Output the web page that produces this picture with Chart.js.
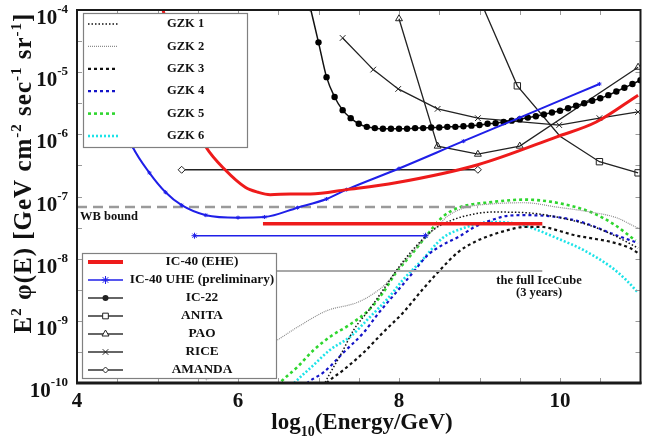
<!DOCTYPE html>
<html><head><meta charset="utf-8">
<script src="https://cdn.jsdelivr.net/npm/chart.js@4"></script>
<style>html,body{margin:0;padding:0;background:#fff;}#wrap{width:646px;height:443px;}</style>
</head><body><div id="wrap"><canvas id="c" width="646" height="443"></canvas></div>
<script>
// x = log10(Energy/GeV), y = E^2 phi(E) [GeV cm^-2 s^-1 sr^-1]
const ic40EheX = [5.05, 5.30, 5.45, 5.60, 5.84, 6.09, 6.25, 6.40, 6.65, 6.90, 7.35, 7.96, 8.98, 9.96, 10.45, 10.97];
const ic40EheY = [1.26e-4, 6.31e-6, 1.58e-6, 6.31e-7, 2.69e-7, 1.41e-7, 1.17e-7, 1.07e-7, 1.10e-7, 1.10e-7, 1.29e-7, 1.66e-7, 3.24e-7, 9.12e-7, 1.58e-6, 4.27e-6];
const ic40UheX = [4.50, 4.69, 4.90, 5.10, 5.30, 5.60, 6.00, 6.33, 6.74, 7.10, 7.35, 8.00, 8.80, 9.50, 10.49];
const ic40UheY = [2.51e-6, 6.31e-7, 2.40e-7, 1.17e-7, 7.24e-8, 5.01e-8, 4.57e-8, 4.68e-8, 6.61e-8, 9.12e-8, 1.29e-7, 2.82e-7, 7.76e-7, 1.86e-6, 6.46e-6];
const ic22X = [6.9, 7.0, 7.1, 7.2, 7.3, 7.4, 7.5, 7.6, 7.7, 7.8, 7.9, 8.0, 8.1, 8.2, 8.3, 8.4, 8.5, 8.6, 8.7, 8.8, 8.9, 9.0, 9.1, 9.2, 9.3, 9.4, 9.5, 9.6, 9.7, 9.8, 9.9, 10.0, 10.1, 10.2, 10.3, 10.4, 10.5, 10.6, 10.7, 10.8, 10.9, 11.0];
const ic22Y = [1.07e-4, 3.02e-5, 8.32e-6, 3.98e-6, 2.45e-6, 1.82e-6, 1.48e-6, 1.32e-6, 1.26e-6, 1.23e-6, 1.23e-6, 1.23e-6, 1.23e-6, 1.26e-6, 1.26e-6, 1.29e-6, 1.29e-6, 1.32e-6, 1.32e-6, 1.35e-6, 1.38e-6, 1.41e-6, 1.48e-6, 1.51e-6, 1.58e-6, 1.66e-6, 1.74e-6, 1.86e-6, 1.95e-6, 2.09e-6, 2.24e-6, 2.40e-6, 2.63e-6, 2.88e-6, 3.16e-6, 3.47e-6, 3.80e-6, 4.27e-6, 4.90e-6, 5.62e-6, 6.46e-6, 7.41e-6];
const anitaX = [9.0, 9.47, 10.0, 10.49, 10.97];
const anitaY = [1.51e-4, 6.03e-6, 9.33e-7, 3.63e-7, 2.40e-7];
const paoX = [8.0, 8.48, 8.98, 9.50, 10.97];
const paoY = [7.24e-5, 6.46e-7, 4.79e-7, 6.46e-7, 1.20e-5];
const riceX = [7.30, 7.68, 7.99, 8.48, 8.98, 9.99, 10.49, 10.97];
const riceY = [3.55e-5, 1.10e-5, 5.37e-6, 2.57e-6, 1.82e-6, 1.41e-6, 1.82e-6, 2.29e-6];
const amandaX = [5.30, 8.98];
const amandaY = [2.69e-7, 2.69e-7];
const wbX = [4.0, 8.98];
const wbY = [6.76e-8, 6.76e-8];
const ic40EheIntX = [6.31, 9.78];
const ic40EheIntY = [3.63e-8, 3.63e-8];
const ic40UheIntX = [5.46, 8.33];
const ic40UheIntY = [2.34e-8, 2.34e-8];
const fullIceCubeX = [6.30, 9.78];
const fullIceCubeY = [6.31e-9, 6.31e-9];
const gzk1X = [6.98, 7.08, 7.29, 7.44, 7.63, 7.82, 7.99, 8.17, 8.42, 8.66, 8.94, 9.15, 9.56, 9.96, 10.38, 10.63, 10.87, 10.97];
const gzk1Y = [5.0e-11, 1.00e-10, 3.09e-10, 7.24e-10, 1.51e-9, 3.39e-9, 7.08e-9, 1.38e-8, 2.88e-8, 4.17e-8, 5.25e-8, 5.62e-8, 5.50e-8, 4.68e-8, 3.39e-8, 2.51e-8, 1.74e-8, 1.48e-8];
const gzk2X = [5.6, 6.45, 6.74, 7.10, 7.47, 7.65, 7.84, 7.98, 8.13, 8.30, 8.50, 8.60, 8.82, 9.15, 9.56, 9.96, 10.38, 10.70, 10.94, 11.0];
const gzk2Y = [1.12e-10, 4.57e-10, 7.94e-10, 1.45e-9, 1.95e-9, 2.57e-9, 3.98e-9, 6.61e-9, 1.12e-8, 2.00e-8, 3.55e-8, 4.79e-8, 6.61e-8, 7.59e-8, 7.94e-8, 6.76e-8, 5.62e-8, 4.57e-8, 3.24e-8, 3.02e-8];
const gzk3X = [7.00, 7.10, 7.31, 7.56, 7.80, 8.05, 8.29, 8.49, 8.74, 8.94, 9.15, 9.35, 9.56, 9.77, 9.96, 10.17, 10.38, 10.63, 10.87, 10.97];
const gzk3Y = [7.08e-11, 1.00e-10, 1.62e-10, 3.09e-10, 6.46e-10, 1.35e-9, 3.16e-9, 6.17e-9, 1.29e-8, 1.86e-8, 2.40e-8, 2.88e-8, 3.24e-8, 3.24e-8, 2.88e-8, 2.40e-8, 2.14e-8, 1.86e-8, 1.48e-8, 1.23e-8];
const gzk4X = [6.75, 6.86, 7.07, 7.31, 7.56, 7.75, 7.96, 8.17, 8.35, 8.54, 8.74, 8.94, 9.15, 9.35, 9.56, 9.96, 10.29, 10.63, 10.97];
const gzk4Y = [7.08e-11, 1.00e-10, 1.51e-10, 3.09e-10, 6.46e-10, 1.35e-9, 2.82e-9, 5.89e-9, 1.12e-8, 1.66e-8, 2.24e-8, 3.24e-8, 4.17e-8, 4.90e-8, 5.01e-8, 4.68e-8, 3.80e-8, 2.57e-8, 1.78e-8];
const gzk5X = [6.40, 6.52, 6.74, 6.94, 7.14, 7.39, 7.63, 7.80, 7.96, 8.17, 8.33, 8.54, 8.74, 9.15, 9.56, 9.96, 10.38, 10.66, 10.94];
const gzk5Y = [6.31e-11, 1.00e-10, 1.82e-10, 3.39e-10, 5.50e-10, 8.71e-10, 1.51e-9, 2.82e-9, 5.89e-9, 1.23e-8, 2.24e-8, 4.68e-8, 6.61e-8, 8.13e-8, 8.91e-8, 7.94e-8, 5.62e-8, 3.63e-8, 1.95e-8];
const gzk6X = [6.60, 6.70, 6.94, 7.14, 7.39, 7.63, 7.88, 8.05, 8.29, 8.54, 8.82, 9.15, 9.47, 9.68, 9.96, 10.29, 10.63, 10.82, 10.97];
const gzk6Y = [7.08e-11, 1.00e-10, 1.95e-10, 3.39e-10, 5.50e-10, 1.12e-9, 2.45e-9, 4.57e-9, 9.55e-9, 2.14e-8, 3.16e-8, 3.89e-8, 3.63e-8, 3.02e-8, 2.14e-8, 1.38e-8, 7.41e-9, 4.57e-9, 2.82e-9];

const xTickLabels = [4, 6, 8, 10];
const xMinorTicks = [4.5, 5, 5.5, 6, 6.5, 7, 7.5, 8, 8.5, 9, 9.5, 10, 10.5];
const yTickExponents = [-4, -5, -6, -7, -8, -9, -10];
const yMinorExponents = [-4.5, -5, -5.5, -6, -6.5, -7, -7.5, -8, -8.5, -9, -9.5];
const gzkLegend = ['GZK 1', 'GZK 2', 'GZK 3', 'GZK 4', 'GZK 5', 'GZK 6'];
const expLegend = ['IC-40 (EHE)', 'IC-40 UHE (preliminary)', 'IC-22', 'ANITA', 'PAO', 'RICE', 'AMANDA'];

const RED = '#ee1b1b', BLUE = '#1f1fe8', BLK = '#222';
const C_GZK = ['#111', '#8c8c8c', '#111', '#1414c8', '#2fd62f', '#1ce3e8'];
const W_GZK = [1.5, 1.2, 2.2, 2.2, 2.6, 2.6];
const D_GZK = [[1.5, 2], [1, 1], [3, 3], [3, 3], [3, 3], [2, 2]];

const pts = (xs, ys) => xs.map((x, i) => ({x, y: ys[i]}));
function ds(label, xs, ys, o) {
  return Object.assign({label, data: pts(xs, ys), pointRadius: 0, borderWidth: 1.3, borderColor: BLK, fill: false, tension: 0}, o);
}
const datasets = [
  ds('IC-40 (EHE)', ic40EheX, ic40EheY, {borderColor: RED, borderWidth: 3, cubicInterpolationMode: 'monotone'}),
  ds('IC-40 UHE (preliminary)', ic40UheX, ic40UheY, {borderColor: BLUE, borderWidth: 2, cubicInterpolationMode: 'monotone', pointStyle: 'star', pointRadius: 2, pointBorderColor: BLUE, pointBorderWidth: 1}),
  ds('IC-22', ic22X, ic22Y, {borderColor: '#111', borderWidth: 1.5, cubicInterpolationMode: 'monotone', pointStyle: 'circle', pointRadius: 3.2, pointBackgroundColor: '#000', pointBorderColor: '#000', pointBorderWidth: 0}),
  ds('ANITA', anitaX, anitaY, {pointStyle: 'rect', pointRadius: [4.5, 4.5, 0, 4.5, 4.5], pointBackgroundColor: 'rgba(255,255,255,0)', pointBorderColor: BLK, pointBorderWidth: 1}),
  ds('PAO', paoX, paoY, {pointStyle: 'triangle', pointRadius: 4, pointBackgroundColor: 'rgba(255,255,255,0)', pointBorderColor: BLK, pointBorderWidth: 1}),
  ds('RICE', riceX, riceY, {pointStyle: 'crossRot', pointRadius: 4, pointBorderColor: BLK, pointBorderWidth: 1}),
  ds('AMANDA', amandaX, amandaY, {borderWidth: 1.5, pointStyle: 'rectRot', pointRadius: 3.5, pointBackgroundColor: '#fff', pointBorderColor: BLK, pointBorderWidth: 1}),
  ds('IC-40 (EHE) integral', ic40EheIntX, ic40EheIntY, {borderColor: RED, borderWidth: 3.5}),
  ds('IC-40 UHE integral', ic40UheIntX, ic40UheIntY, {borderColor: BLUE, borderWidth: 1.5, pointStyle: 'star', pointRadius: 3, pointBorderColor: BLUE, pointBorderWidth: 1}),
  ds('WB bound', wbX, wbY, {borderColor: '#9a9a9a', borderWidth: 2.5, borderDash: [10, 6]}),
  ds('the full IceCube (3 years)', fullIceCubeX, fullIceCubeY, {borderColor: '#a8a8a8', borderWidth: 2}),
];
[[gzk1X, gzk1Y], [gzk2X, gzk2Y], [gzk3X, gzk3Y], [gzk4X, gzk4Y], [gzk5X, gzk5Y], [gzk6X, gzk6Y]].forEach((p, i) => {
  datasets.push(ds(gzkLegend[i], p[0], p[1], {borderColor: C_GZK[i], borderWidth: W_GZK[i], borderDash: D_GZK[i], cubicInterpolationMode: 'monotone'}));
});

const SERIF = '"Liberation Serif","Times New Roman",serif';
const F = s => `bold ${s}px ${SERIF}`;

function marker(ctx, style, x, y, r, color) {
  ctx.save();
  ctx.strokeStyle = color; ctx.fillStyle = color; ctx.lineWidth = 1; ctx.setLineDash([]);
  ctx.beginPath();
  if (style === 'circle') { ctx.arc(x, y, r, 0, Math.PI * 2); ctx.fill(); }
  else if (style === 'rect') { const s = r * Math.SQRT1_2; ctx.fillStyle = '#fff'; ctx.rect(x - s, y - s, 2 * s, 2 * s); ctx.fill(); ctx.stroke(); }
  else if (style === 'triangle') { ctx.fillStyle = '#fff'; ctx.moveTo(x, y - r); ctx.lineTo(x + r * 0.87, y + r * 0.5); ctx.lineTo(x - r * 0.87, y + r * 0.5); ctx.closePath(); ctx.fill(); ctx.stroke(); }
  else if (style === 'crossRot') { const s = r * 0.7; ctx.moveTo(x - s, y - s); ctx.lineTo(x + s, y + s); ctx.moveTo(x + s, y - s); ctx.lineTo(x - s, y + s); ctx.stroke(); }
  else if (style === 'rectRot') { ctx.fillStyle = '#fff'; ctx.moveTo(x, y - r); ctx.lineTo(x + r, y); ctx.lineTo(x, y + r); ctx.lineTo(x - r, y); ctx.closePath(); ctx.fill(); ctx.stroke(); }
  else if (style === 'star') { for (let k = 0; k < 4; k++) { const a = k * Math.PI / 4; ctx.moveTo(x - r * Math.cos(a), y - r * Math.sin(a)); ctx.lineTo(x + r * Math.cos(a), y + r * Math.sin(a)); } ctx.stroke(); }
  ctx.restore();
}

function partW(ctx, t, size, ls) {
  ctx.font = F(size); ctx.letterSpacing = '0px';
  return ctx.measureText(t).width + ls * t.length;
}
function partsWidth(ctx, parts, big, small, ls) {
  let w = 0; parts.forEach(([t, s]) => { w += partW(ctx, t, s ? small : big, ls); }); return w;
}
function drawParts(ctx, parts, x0, y0, big, small, shift, ls) {
  let x = x0;
  parts.forEach(([t, s]) => {
    const w = partW(ctx, t, s ? small : big, ls);
    ctx.font = F(s ? small : big); ctx.letterSpacing = ls + 'px';
    ctx.fillText(t, x, y0 + (s ? shift : 0));
    ctx.letterSpacing = '0px';
    x += w;
  });
}

const decor = {
  id: 'decor',
  afterDatasetsDraw(chart) {
    const {ctx, chartArea: a, scales: {x, y}} = chart;
    ctx.save();
    ctx.setLineDash([]);
    // inward ticks
    ctx.strokeStyle = '#9a9a9a'; ctx.lineWidth = 1;
    xMinorTicks.forEach(v => {
      const px = Math.round(x.getPixelForValue(v)) + 0.5;
      ctx.beginPath(); ctx.moveTo(px, a.bottom); ctx.lineTo(px, a.bottom - 5); ctx.moveTo(px, a.top); ctx.lineTo(px, a.top + 5); ctx.stroke();
    });
    yMinorExponents.forEach(e => {
      const py = Math.round(y.getPixelForValue(Math.pow(10, e))) + 0.5;
      ctx.beginPath(); ctx.moveTo(a.left, py); ctx.lineTo(a.left + 5, py); ctx.moveTo(a.right, py); ctx.lineTo(a.right - 5, py); ctx.stroke();
    });
    ctx.fillStyle = '#111';
    // in-plot annotations
    ctx.font = F(12.5); ctx.textBaseline = 'middle'; ctx.textAlign = 'left';
    ctx.fillText('WB bound', a.left + 3, y.getPixelForValue(wbY[0]) + 10);
    ctx.textAlign = 'center';
    const gy = y.getPixelForValue(fullIceCubeY[0]);
    const gx = x.getPixelForValue(9.74);
    ctx.fillText('the full IceCube', gx, gy + 10);
    ctx.fillText('(3 years)', gx, gy + 22);

    // GZK legend
    let L = a.left + 6, T = a.top + 3, R = a.left + 170, B = a.top + 137;
    ctx.fillStyle = '#fff'; ctx.fillRect(L, T, R - L, B - T);
    ctx.strokeStyle = '#808080'; ctx.lineWidth = 1.2; ctx.strokeRect(L + 0.5, T + 0.5, R - L, B - T);
    gzkLegend.forEach((t, i) => {
      const ry = T + 11 + i * 22.4;
      ctx.save(); ctx.strokeStyle = C_GZK[i]; ctx.lineWidth = W_GZK[i]; ctx.setLineDash(D_GZK[i]);
      ctx.beginPath(); ctx.moveTo(L + 5, ry); ctx.lineTo(L + 35, ry); ctx.stroke(); ctx.restore();
      ctx.fillStyle = '#111'; ctx.font = F(12.5); ctx.textAlign = 'left'; ctx.textBaseline = 'middle';
      ctx.fillText(t, L + 84, ry);
    });

    // experiments legend
    L = a.left + 5; T = a.top + 243; R = a.left + 199; B = a.top + 368;
    ctx.fillStyle = '#fff'; ctx.fillRect(L, T, R - L, B - T);
    ctx.strokeStyle = '#808080'; ctx.lineWidth = 1.2; ctx.strokeRect(L + 0.5, T + 0.5, R - L, B - T);
    const styles = [null, 'star', 'circle', 'rect', 'triangle', 'crossRot', 'rectRot'];
    expLegend.forEach((t, i) => {
      const ry = T + 9 + i * 18;
      ctx.save(); ctx.setLineDash([]);
      ctx.strokeStyle = i === 0 ? RED : (i === 1 ? BLUE : '#333');
      ctx.lineWidth = i === 0 ? 4 : (i === 1 ? 1.6 : 1.5);
      ctx.beginPath(); ctx.moveTo(L + 6, ry); ctx.lineTo(L + 41, ry); ctx.stroke(); ctx.restore();
      if (styles[i]) marker(ctx, styles[i], L + 23.5, ry, (i === 2 || i === 6) ? 3 : 4, i === 1 ? BLUE : '#222');
      ctx.fillStyle = '#111'; ctx.font = F(13.3); ctx.textAlign = 'center'; ctx.textBaseline = 'middle';
      ctx.fillText(t, L + 120, ry);
    });
    ctx.restore();
  },
  afterDraw(chart) {
    const {ctx, chartArea: a, scales: {x, y}} = chart;
    ctx.save();
    ctx.setLineDash([]);
    // frame
    ctx.strokeStyle = '#1a1a1a'; ctx.lineWidth = 2;
    ctx.strokeRect(a.left, a.top, a.right - a.left, a.bottom - a.top);
    ctx.lineWidth = 3; ctx.beginPath(); ctx.moveTo(a.left - 1, a.bottom); ctx.lineTo(a.right + 1, a.bottom); ctx.stroke();
    ctx.fillStyle = '#111';
    // y tick labels
    ctx.textAlign = 'left'; ctx.textBaseline = 'alphabetic';
    yTickExponents.forEach(e => {
      const py = y.getPixelForValue(Math.pow(10, e));
      const sup = String(e);
      ctx.font = F(13); const ws = ctx.measureText(sup).width;
      ctx.font = F(21); const wm = ctx.measureText('10').width;
      const x0 = 68 - ws - wm;
      ctx.fillText('10', x0, py + 14);
      ctx.font = F(13); ctx.fillText(sup, x0 + wm, py + 3);
    });
    // x tick labels
    ctx.textAlign = 'center'; ctx.font = F(21);
    xTickLabels.forEach(v => ctx.fillText(String(v), x.getPixelForValue(v), 407));
    // x title
    ctx.textAlign = 'left';
    const xt = [['log', 0], ['10', 1], ['(Energy/GeV)', 0]];
    const xw = partsWidth(ctx, xt, 23, 14, 0);
    drawParts(ctx, xt, 362 - xw / 2, 429, 23, 14, 7, 0);
    // y title
    const yt = [['E', 0], ['2', 1], [' \u03C6(E) [GeV cm', 0], ['-2', 1], [' sec', 0], ['-1', 1], [' sr', 0], ['-1', 1], [']', 0]];
    const yw = partsWidth(ctx, yt, 25, 15, 1);
    ctx.translate(31, 173); ctx.rotate(-Math.PI / 2);
    drawParts(ctx, yt, -yw / 2, 0, 25, 15, -10, 1);
    ctx.restore();
  }
};

new Chart(document.getElementById('c'), {
  type: 'line',
  data: {datasets},
  options: {
    responsive: false, animation: false, events: [],
    layout: {padding: {left: 77, top: 10, right: 1, bottom: 60}},
    scales: {
      x: {type: 'linear', min: 4, max: 11, display: false},
      y: {type: 'logarithmic', min: 1e-10, max: 1e-4, display: false}
    },
    plugins: {legend: {display: false}, tooltip: {enabled: false}}
  },
  plugins: [decor]
});
</script></body></html>
